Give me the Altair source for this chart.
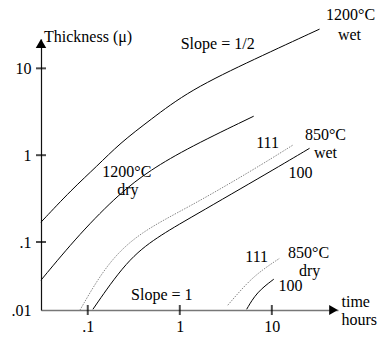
import altair as alt
import pandas as pd

# ---- data (time in hours, thickness in microns) ----
wet1200_t = [0.031, 0.0675, 0.126, 0.223, 0.473, 1.28, 6.5, 33.0]
wet1200_th = [0.169, 0.406, 0.747, 1.37, 2.53, 5.61, 12.8, 28.3]

dry1200_t = [0.031, 0.0822, 0.223, 0.473, 1.28, 6.35]
dry1200_th = [0.0363, 0.126, 0.365, 0.671, 1.24, 2.81]

wet850_111_t = [0.0822, 0.1615, 0.368, 1.28, 6.19, 16.8]
wet850_111_th = [0.0164, 0.057, 0.130, 0.255, 0.671, 1.30]

wet850_100_t = [0.1138, 0.266, 0.563, 1.28, 10.2, 25.7]
wet850_100_th = [0.0168, 0.0617, 0.1135, 0.188, 0.671, 1.20]

dry850_111_t = [3.32, 5.33, 7.75, 12.2]
dry850_111_th = [0.0187, 0.0335, 0.0473, 0.0651]

dry850_100_t = [5.33, 6.84, 10.5]
dry850_100_th = [0.0168, 0.0264, 0.0373]

x_ticks = [0.1, 1, 10]
y_ticks = [0.1, 1, 10]

labels_center = ["Slope = 1/2", "1200°C", "wet", "1200°C", "dry", "111", "850°C", "wet",
                 "100", "Slope = 1", "111", "850°C", "dry", "100"]
labels_center_t = [2.58, 71.6, 69.8, 0.266, 0.273, 9.0, 38.3, 38.3, 20.5, 0.638, 6.84, 25.1, 25.7, 16.0]
labels_center_th = [19.0, 41.0, 24.1, 0.637, 0.395, 1.375, 1.70, 1.055, 0.621, 0.0244, 0.0668,
                    0.0743, 0.0461, 0.0310]

labels_left = ["Thickness (μ)", "time", "hours"]
labels_left_t = [0.0335, 57.2, 57.2]
labels_left_th = [22.9, 0.0202, 0.01256]

XMIN, XMAX = 10 ** -1.508, 10 ** 1.719
YMIN, YMAX = 10 ** -1.783, 10 ** 1.338
FONT = "Times New Roman, Liberation Serif, serif"
FS = 16


def series(name, ts, ths):
    return pd.DataFrame({"t": ts, "th": ths, "s": name})


solid = pd.concat([
    series("wet1200", wet1200_t, wet1200_th),
    series("dry1200", dry1200_t, dry1200_th),
    series("wet850_100", wet850_100_t, wet850_100_th),
    series("dry850_100", dry850_100_t, dry850_100_th),
])
dotted = pd.concat([
    series("wet850_111", wet850_111_t, wet850_111_th),
    series("dry850_111", dry850_111_t, dry850_111_th),
])

xscale = alt.Scale(type="log", domain=[XMIN, XMAX], nice=False)
yscale = alt.Scale(type="log", domain=[YMIN, YMAX], nice=False)

x_axis = alt.Axis(values=x_ticks, ticks=False, grid=False, title=None,
                  labelExpr="datum.value >= 10 ? '10' : datum.value >= 1 ? '1' : '.1'",
                  domainColor="#777777", domainWidth=1.6, labelPadding=8)
y_axis = alt.Axis(values=[YMIN] + y_ticks, ticks=False, grid=False, title=None,
                  labelExpr="datum.value >= 10 ? '10' : datum.value >= 1 ? '1' : datum.value >= 0.1 ? '.1' : '.01'",
                  domainColor="#111111", domainWidth=1.2, labelPadding=10)


def X(field):
    return alt.X(field, type="quantitative", scale=xscale, axis=x_axis, title=None)


def Y(field):
    return alt.Y(field, type="quantitative", scale=yscale, axis=y_axis, title=None)


solid_lines = alt.Chart(solid).mark_line(interpolate="basis", color="black",
                                         strokeWidth=1, clip=False).encode(
    x=X("t"), y=Y("th"), detail="s:N",
)

dotted_lines = alt.Chart(dotted).mark_line(interpolate="basis", color="#888888",
                                           strokeWidth=1, strokeDash=[1.5, 1.2], clip=False).encode(
    x=X("t"), y=Y("th"), detail="s:N",
)

ytick_df = pd.DataFrame({"t": XMIN, "th": y_ticks})
xtick_df = pd.DataFrame({"t": x_ticks, "th": YMIN})

yticks = alt.Chart(ytick_df).mark_tick(orient="horizontal", size=10, thickness=2,
                                       color="black", clip=False).encode(x=X("t"), y=Y("th"))
xticks = alt.Chart(xtick_df).mark_tick(orient="vertical", size=10, thickness=2,
                                       color="black", clip=False).encode(x=X("t"), y=Y("th"))

arrow_up = alt.Chart(pd.DataFrame({"t": [XMIN], "th": [YMAX]})).mark_point(
    shape="triangle-up", filled=True, size=110, color="black", opacity=1, yOffset=4.5, clip=False
).encode(x=X("t"), y=Y("th"))
arrow_right = alt.Chart(pd.DataFrame({"t": [XMAX], "th": [YMIN]})).mark_point(
    shape="triangle-right", filled=True, size=100, color="black", opacity=1, xOffset=-4.5, clip=False
).encode(x=X("t"), y=Y("th"))

txt_c = alt.Chart(pd.DataFrame({"label": labels_center, "t": labels_center_t,
                                "th": labels_center_th})).mark_text(
    font=FONT, fontSize=FS, color="black", align="center", baseline="middle", clip=False
).encode(x=X("t"), y=Y("th"), text="label:N")

txt_l = alt.Chart(pd.DataFrame({"label": labels_left, "t": labels_left_t,
                                "th": labels_left_th})).mark_text(
    font=FONT, fontSize=FS, color="black", align="left", baseline="middle", clip=False
).encode(x=X("t"), y=Y("th"), text="label:N")

chart = alt.layer(
    solid_lines, dotted_lines, yticks, xticks, arrow_up, arrow_right, txt_c, txt_l
).properties(
    width=297, height=271,
    autosize=alt.AutoSizeParams(type="none"),
    padding={"left": 41, "top": 39, "right": 40, "bottom": 29},
    background="white",
).configure_view(stroke=None).configure_axis(
    labelFont=FONT, labelFontSize=FS, labelColor="black"
)

chart.save("out.html", embed_options={"renderer": "svg", "actions": False})
